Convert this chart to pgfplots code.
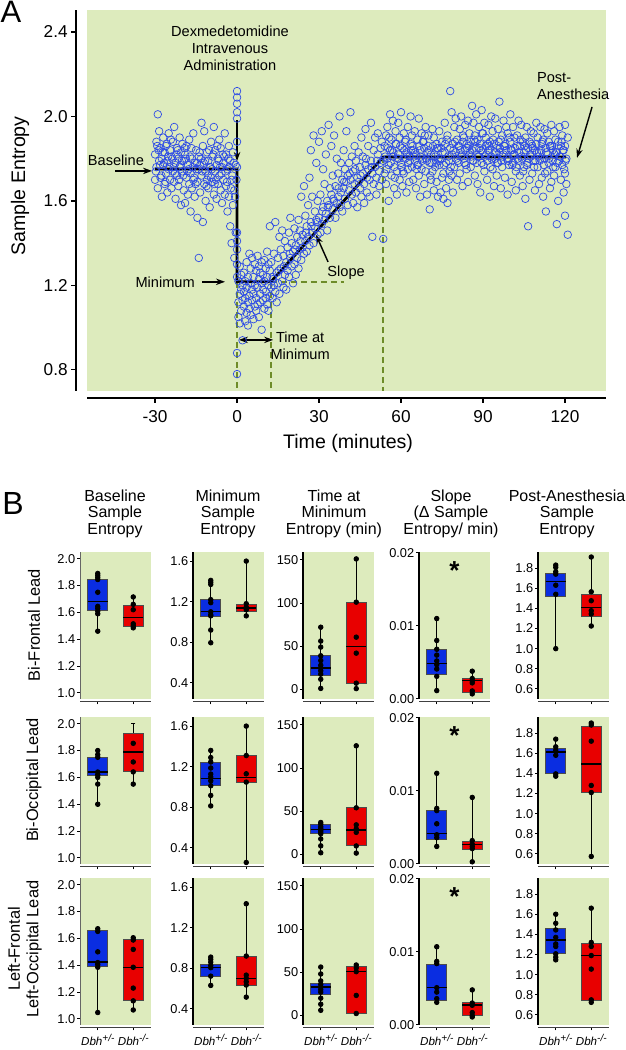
\documentclass[border=0pt]{standalone}
\usepackage{pgfplots}
\pgfplotsset{compat=1.18}
\usepgfplotslibrary{statistics}
\usetikzlibrary{arrows.meta}
\usepackage{fontspec}
\setmainfont{Liberation Sans}
\definecolor{bggreen}{RGB}{221,235,189}
\definecolor{scblue}{RGB}{45,75,230}
\definecolor{bxblue}{RGB}{10,45,225}
\definecolor{bxred}{RGB}{232,0,0}
\definecolor{dashgreen}{RGB}{110,140,40}
\newcommand{\sups}[1]{\raisebox{0.8ex}{\fontsize{5}{5}\selectfont\textit{#1}}}
\pgfplotsset{/pgf/number format/assume math mode=true,
  boxplot/draw direction=y,
  boxplot/box extend=0.57, boxplot/whisker extend=0.12,
  boxplot/every whisker/.style={black,line width=0.6pt},
  boxplot/every median/.style={black,line width=0.7pt},
  pB/.style={scale only axis, width=35.5pt, height=73.5pt, anchor=south west,
    xmin=0.5, xmax=2.5, xtick={1,2}, xticklabels={},
    axis background/.style={fill=bggreen},
    axis lines*=left, axis x line shift=1.3pt,
    x axis line style={black!75, line width=0.6pt},
    y axis line style={black, line width=1pt},
    tick align=outside, major tick length=1.4pt, tick style={black, line width=0.5pt},
    tick label style={font=\fontsize{6.4}{7}\selectfont},
    yticklabel style={inner sep=0.8pt},
    clip=false, scaled y ticks=false},
  f1/.style={yticklabel style={/pgf/number format/fixed, /pgf/number format/fixed zerofill, /pgf/number format/precision=1}},
  c1/.style={f1, ymin=0.955, ymax=2.05, ytick={1.0,1.2,1.4,1.6,1.8,2.0}, y axis line style={black!60, line width=0.4pt}},
  c2/.style={f1, ymin=0.24, ymax=1.69, ytick={0.4,0.8,1.2,1.6}},
  c3/.style={ymin=-11, ymax=159, ytick={0,50,100,150}},
  c4/.style={ymin=0, ymax=0.0201, ytick={0,0.01,0.02}, yticklabel style={/pgf/number format/fixed, /pgf/number format/fixed zerofill, /pgf/number format/precision=2}},
  c5/.style={f1, ymin=0.50, ymax=1.96, ytick={0.6,0.8,1.0,1.2,1.4,1.6,1.8}},
  dbh/.style={xticklabels={{\textit{Dbh}\sups{+/-}},{\textit{Dbh}\sups{-/-}}}, xticklabel style={font=\fontsize{5.8}{6.5}\selectfont, inner sep=1.5pt}}
}
\newcommand{\bx}[7]{\addplot[boxplot prepared={draw position=#1, lower whisker=#2, lower quartile=#3, median=#4, upper quartile=#5, upper whisker=#6}, fill=#7, draw=black!70, line width=0.45pt] coordinates {};}
\newcommand{\pts}[1]{\addplot[only marks, mark=*, mark size=1.15pt, black, mark options={fill=black}] coordinates {#1};}
\newcommand{\sigstar}{\node[font=\fontsize{13}{13}\selectfont\bfseries] at (axis cs:1.5,0.0176) {*};}
\tikzset{arr/.style={-{Stealth[length=4.5pt,width=3.2pt]}, line width=0.7pt, black}}
\newcommand{\annfont}{\fontsize{7.3}{8.5}\selectfont}
\begin{document}
\begin{tikzpicture}
\useasboundingbox (0,0) rectangle (313pt,525pt);
\begin{axis}[scale only axis, width=259.5pt, height=190.5pt, at={(43.5pt,329.5pt)}, anchor=south west,
  xmin=-54.9, xmax=135, ymin=0.70, ymax=2.504,
  xtick={-30,0,30,60,90,120}, ytick={0.8,1.2,1.6,2.0,2.4},
  yticklabel style={/pgf/number format/fixed, /pgf/number format/fixed zerofill, /pgf/number format/precision=1, inner sep=1.5pt},
  axis background/.style={fill=bggreen},
  axis lines*=left, axis x line shift=3.5pt, axis y line shift=5.5pt,
  x axis line style={black, line width=1.3pt}, y axis line style={black, line width=1pt},
  tick align=outside, major tick length=2.5pt, tick style={black, line width=0.6pt},
  tick label style={font=\fontsize{8.6}{10}\selectfont},
  xlabel={Time (minutes)}, ylabel={Sample Entropy},
  label style={font=\fontsize{9.8}{11}\selectfont},
  xlabel style={at={(axis description cs:0.503,-0.1365)}, anchor=center},
  ylabel style={at={(axis description cs:-0.129,0.538)}, anchor=center},
  clip=false]
\addplot[only marks, mark=o, mark size=1.9pt, color=scblue, mark options={line width=0.35pt}] coordinates {
(-30,1.82)(-30,1.70)(-29.5,1.88)(-29.5,1.76)(-29,2.01)(-29,1.66)(-28.5,1.79)(-28.5,1.93)(-28,1.71)(-28,1.85)(-27.5,1.62)(-27.5,1.80)(-27,1.90)(-27,1.77)(-26.5,1.68)(-26.5,1.83)(-26,1.86)(-26,1.73)(-25.5,1.79)(-25.5,1.64)(-25,1.92)(-25,1.75)(-24.5,1.70)(-24.5,1.84)(-24,1.81)(-24,1.66)(-23.5,1.74)(-23.5,1.88)(-23,1.95)(-23,1.69)(-22.5,1.78)(-22.5,1.61)(-22,1.85)(-22,1.72)(-21.5,1.67)(-21.5,1.80)(-21,1.76)(-21,1.90)(-20.5,1.58)(-20.5,1.83)(-20,1.74)(-20,1.87)(-19.5,1.65)(-19.5,1.79)(-19,1.82)(-19,1.59)(-18.5,1.71)(-18.5,1.86)(-18,1.63)(-18,1.77)(-17.5,1.89)(-17.5,1.68)(-17,1.73)(-17,1.55)(-16.5,1.80)(-16.5,1.66)(-16,1.92)(-16,1.70)(-15.5,1.62)(-15.5,1.78)(-15,1.75)(-15,1.84)(-14.5,1.52)(-14.5,1.69)(-14,1.33)(-14,1.81)(-13.5,1.77)(-13.5,1.64)(-13,1.97)(-13,1.72)(-12.5,1.50)(-12.5,1.86)(-12,1.93)(-12,1.68)(-11.5,1.74)(-11.5,1.60)(-11,1.83)(-11,1.70)(-10.5,1.66)(-10.5,1.79)(-10,1.57)(-10,1.76)(-9.5,1.88)(-9.5,1.71)(-9,1.69)(-9,1.81)(-8.5,1.95)(-8.5,1.63)(-8,1.74)(-8,1.84)(-7.5,1.61)(-7.5,1.77)(-7,1.80)(-7,1.68)(-6.5,1.72)(-6.5,1.89)(-6,1.85)(-6,1.65)(-5.5,1.59)(-5.5,1.76)(-5,1.78)(-5,1.70)(-4.5,1.92)(-4.5,1.63)(-4,1.67)(-4,1.82)(-3.5,1.75)(-3.5,1.55)(-3,1.86)(-3,1.62)(-2.5,1.48)(-2.5,1.79)(-2,1.70)(-2,1.40)(-1.5,1.83)(-1.5,1.58)(-1,1.33)(-1,1.65)(-0.5,1.77)(-0.5,1.45)
(-29.7,1.74)(-28.7,1.84)(-27.7,1.72)(-26.7,1.78)(-25.7,1.87)(-24.7,1.76)(-23.7,1.80)(-22.7,1.73)(-21.7,1.84)(-20.7,1.77)(-19.7,1.72)(-18.7,1.80)(-17.7,1.75)(-16.7,1.85)(-15.7,1.71)(-14.7,1.78)(-13.7,1.83)(-12.7,1.74)(-11.7,1.79)(-10.7,1.72)(-9.7,1.76)(-8.7,1.82)(-7.7,1.70)(-6.7,1.79)(-5.7,1.73)(-4.7,1.81)(-3.7,1.69)(-2.7,1.76)(-1.7,1.72)(-0.7,1.62)
(-29.2,1.86)(-28.2,1.77)(-27.2,1.83)(-26.2,1.69)(-25.2,1.81)(-24.2,1.89)(-23.2,1.76)(-22.2,1.82)(-21.2,1.70)(-20.2,1.79)(-19.2,1.85)(-18.2,1.74)(-17.2,1.81)(-16.2,1.76)(-15.2,1.68)(-14.2,1.75)(-13.2,1.80)(-12.2,1.78)(-11.2,1.67)(-10.2,1.84)(-9.2,1.75)(-8.2,1.68)(-7.2,1.86)(-6.2,1.76)(-5.2,1.82)(-4.2,1.74)(-3.2,1.80)(-2.2,1.66)(-1.2,1.78)(-0.2,1.70)
(0,2.12)(0,2.09)(0,2.06)(0,2.02)(0,1.99)(0,1.88)(0,1.76)(0,1.45)(0,1.41)(0,1.37)(0,1.30)(0,1.24)(0,0.88)(0,0.78)
(0.5,1.22)(0.5,1.12)(0.5,1.05)(1,1.29)(1,1.16)(1,1.02)(1.5,1.18)(1.5,1.08)(1.5,1.25)(2,0.94)(2,1.20)(2,1.13)(2.5,1.26)(2.5,1.10)(2.5,1.17)(3,1.03)(3,1.22)(3,1.14)(3.5,1.19)(3.5,1.07)(3.5,1.31)(4,1.12)(4,1.24)(4,1.01)(4.5,1.35)(4.5,1.15)(4.5,1.09)(5,1.21)(5,1.06)(5,1.28)(5.5,1.13)(5.5,1.33)(5.5,1.18)(6,1.24)(6,1.04)(6,1.16)(6.5,1.10)(6.5,1.30)(6.5,1.20)(7,1.27)(7,1.14)(7,1.08)(7.5,1.19)(7.5,1.34)(7.5,1.11)(8,1.05)(8,1.23)(8,1.29)(8.5,1.16)(8.5,1.26)(8.5,1.12)(9,0.99)(9,1.21)(9,1.31)(9.5,1.25)(9.5,1.13)(9.5,1.18)(10,1.32)(10,1.09)(10,1.22)(10.5,1.17)(10.5,1.28)(10.5,1.14)(11,1.24)(11,1.36)(11,1.11)(11.5,1.20)(11.5,1.08)(11.5,1.30)(12,1.27)(12,1.15)(12,1.48)
(12.5,1.19)(12.5,1.31)(13,1.24)(13,1.14)(13.5,1.35)(13.5,1.20)(14,1.50)(14,1.17)(14.5,1.26)(14.5,1.12)(15,1.33)(15,1.21)(15.5,1.16)(15.5,1.43)(16,1.28)(16,1.37)(16.5,1.22)(16.5,1.46)(17,1.34)(17,1.19)(17.5,1.41)(17.5,1.25)(18,1.18)(18,1.31)(18.5,1.38)(18.5,1.27)(19,1.24)(19,1.45)(19.5,1.33)(19.5,1.52)(20,1.29)(20,1.40)(20.5,1.36)(20.5,1.21)(21,1.47)(21,1.30)(21.5,1.25)(21.5,1.39)(22,1.43)(22,1.33)(22.5,1.51)(22.5,1.28)(23,1.37)(23,1.46)(23.5,1.32)(23.5,1.62)(24,1.44)(24,1.38)(24.5,1.67)(24.5,1.35)(25,1.41)(25,1.53)(25.5,1.48)(25.5,1.36)(26,1.58)(26,1.43)(26.5,1.39)(26.5,1.71)(27,1.50)(27,1.84)(27.5,1.45)(27.5,1.62)(28,1.91)(28,1.40)(28.5,1.55)(28.5,1.47)(29,1.78)(29,1.51)(29.5,1.44)(29.5,1.60)(30,1.52)(30,1.88)(30.5,1.63)(30.5,1.45)(31,1.49)(31,1.93)(31.5,1.57)(31.5,1.75)(32,1.68)(32,1.51)(32.5,1.54)(32.5,1.82)(33,1.60)(33,1.46)(33.5,1.96)(33.5,1.58)(34,1.52)(34,1.66)(34.5,1.63)(34.5,1.86)(35,1.56)(35,1.72)(35.5,1.91)(35.5,1.60)(36,1.67)(36,1.52)(36.5,1.59)(36.5,1.80)(37,1.73)(37,1.62)(37.5,2.00)(37.5,1.57)(38,1.64)(38,1.78)(38.5,1.70)(38.5,1.55)(39,1.84)(39,1.66)(39.5,1.61)(39.5,1.75)(40,1.69)(40,1.93)(40.5,1.58)(40.5,1.72)(41,1.78)(41,1.65)(41.5,2.02)(41.5,1.70)(42,1.63)(42,1.81)(42.5,1.74)(42.5,1.59)(43,1.68)(43,1.86)(43.5,1.79)(43.5,1.64)(44,1.71)(44,1.57)(44.5,1.83)(44.5,1.69)(45,1.66)(45,1.76)(45.5,1.90)(45.5,1.62)(46,1.73)(46,1.81)(46.5,1.68)(46.5,1.59)(47,1.77)(47,1.94)(47.5,1.64)(47.5,1.71)(48,1.86)(48,1.75)(48.5,1.70)(48.5,1.62)(49,1.79)(49,1.97)(49.5,1.43)(49.5,1.73)(50,1.68)(50,1.84)(50.5,1.76)(50.5,1.90)(51,1.71)(51,1.63)(51.5,1.82)(51.5,1.92)(52,1.74)(52,1.67)(52.5,1.85)(52.5,1.78)(53,1.70)(53,1.88)
(13.2,1.23)(15.2,1.27)(17.2,1.29)(19.2,1.35)(21.2,1.37)(23.2,1.41)(25.2,1.45)(27.2,1.48)(29.2,1.50)(31.2,1.55)(33.2,1.57)(35.2,1.61)(37.2,1.66)(39.2,1.69)(41.2,1.73)(43.2,1.75)(45.2,1.72)(47.2,1.80)(49.2,1.76)(51.2,1.79)
(53.5,1.42)(53.5,1.79)(54,1.86)(54,1.73)(54.5,1.68)(54.5,1.91)(55,1.95)(55,1.80)(55.5,1.77)(55.5,1.60)(56,1.84)(56,2.01)(56.5,1.72)(56.5,1.89)(57,1.98)(57,1.81)(57.5,1.66)(57.5,1.76)(58,1.87)(58,1.93)(58.5,1.74)(58.5,1.63)(59,1.82)(59,1.97)(59.5,1.90)(59.5,1.70)(60,1.78)(60,2.02)(60.5,1.85)(60.5,1.67)(61,1.73)(61,1.92)(61.5,1.88)(61.5,1.80)(62,1.64)(62,1.83)(62.5,1.95)(62.5,1.75)(63,1.81)(63,1.69)(63.5,1.87)(63.5,2.00)(64,1.76)(64,1.91)(64.5,1.70)(64.5,1.84)(65,1.93)(65,1.79)(65.5,1.82)(65.5,1.66)(66,1.77)(66,1.89)(66.5,1.99)(66.5,1.72)(67,1.84)(67,1.62)(67.5,1.75)(67.5,1.92)(68,1.88)(68,1.80)(68.5,1.68)(68.5,1.85)(69,1.95)(69,1.74)(69.5,1.79)(69.5,1.63)(70,1.86)(70,1.91)(70.5,1.56)(70.5,1.78)(71,1.82)(71,1.70)(71.5,1.74)(71.5,1.94)(72,1.90)(72,1.65)(72.5,1.81)(72.5,1.76)(73,1.69)(73,1.87)(73.5,1.85)(73.5,1.62)(74,1.77)(74,1.93)(74.5,1.64)(74.5,1.80)(75,1.88)(75,1.71)(75.5,1.73)(75.5,1.61)(76,1.83)(76,1.97)(76.5,1.66)(76.5,1.78)(77,1.91)(77,1.59)(77.5,1.79)(77.5,1.70)(78,2.12)(78,1.85)(78.5,1.72)(78.5,2.02)(79,1.87)(79,1.64)(79.5,1.76)(79.5,1.95)(80,1.99)(80,1.83)(80.5,1.70)(80.5,1.89)(81,1.86)(81,1.78)(81.5,1.94)(81.5,1.73)(82,1.81)(82,2.00)(82.5,1.67)(82.5,1.88)(83,1.90)(83,1.80)(83.5,1.84)(83.5,1.96)(84,1.75)(84,1.87)(84.5,1.98)(84.5,1.69)(85,1.82)(85,1.92)(85.5,1.88)(85.5,1.76)(86,2.05)(86,1.84)(86.5,1.79)(86.5,1.97)(87,1.91)(87,1.72)(87.5,1.85)(87.5,2.01)(88,1.68)(88,1.89)(88.5,1.95)(88.5,1.81)(89,1.87)(89,1.64)(89.5,2.03)(89.5,1.78)(90,1.83)(90,1.92)(90.5,1.74)(90.5,1.97)(91,1.90)(91,1.86)(91.5,1.79)(91.5,1.70)(92,1.96)(92,1.84)(92.5,1.88)(92.5,1.62)(93,1.81)(93,2.00)(93.5,1.93)(93.5,1.75)(94,1.67)(94,1.87)(94.5,1.99)(94.5,1.80)(95,1.85)(95,1.72)(95.5,1.78)(95.5,1.94)(96,2.07)(96,1.83)(96.5,1.89)(96.5,1.66)(97,1.76)(97,1.91)(97.5,1.98)(97.5,1.82)(98,1.71)(98,1.86)(98.5,1.84)(98.5,1.95)(99,1.92)(99,1.63)(99.5,1.80)(99.5,1.77)(100,1.88)(100,2.01)(100.5,1.69)(100.5,1.84)(101,1.95)(101,1.78)(101.5,1.82)(101.5,1.90)(102,1.74)(102,1.65)(102.5,1.91)(102.5,1.86)(103,1.79)(103,1.98)(103.5,1.86)(103.5,1.72)(104,1.96)(104,1.81)(104.5,1.67)(104.5,1.88)(105,1.83)(105,1.76)(105.5,1.90)(105.5,1.61)(106,1.77)(106,1.95)(106.5,1.48)(106.5,1.85)(107,1.88)(107,1.70)(107.5,1.81)(107.5,1.93)(108,1.73)(108,1.86)(108.5,1.92)(108.5,1.79)(109,1.65)(109,1.84)(109.5,1.87)(109.5,1.97)(110,1.76)(110,1.90)(110.5,1.83)(110.5,1.68)(111,1.95)(111,1.80)(111.5,1.71)(111.5,1.87)(112,1.89)(112,1.62)(112.5,1.80)(112.5,1.94)(113,1.55)(113,1.85)(113.5,1.92)(113.5,1.74)(114,1.78)(114,1.88)(114.5,1.86)(114.5,1.66)(115,1.69)(115,1.96)(115.5,1.84)(115.5,1.79)(116,1.93)(116,1.72)(116.5,1.76)(116.5,1.89)(117,1.49)(117,1.83)(117.5,1.88)(117.5,1.60)(118,1.81)(118,1.95)(118.5,1.70)(118.5,1.86)(119,1.91)(119,1.77)(119.5,1.64)(119.5,1.84)(120,1.86)(120,1.53)(120,1.96)(120,1.73)(120.5,1.80)(120.5,1.68)(121,1.44)(121,1.90)
(54.2,1.81)(55.2,1.85)(56.2,1.78)(57.2,1.83)(58.2,1.87)(59.2,1.80)(60.2,1.76)(61.2,1.84)(62.2,1.82)(63.2,1.79)(64.2,1.86)(65.2,1.83)(66.2,1.77)(67.2,1.81)(68.2,1.88)(69.2,1.80)(70.2,1.84)(71.2,1.78)(72.2,1.82)(73.2,1.85)(74.2,1.79)(75.2,1.83)(76.2,1.87)(77.2,1.81)(78.2,1.76)(79.2,1.84)(80.2,1.80)(81.2,1.86)(82.2,1.82)(83.2,1.78)(84.2,1.85)(85.2,1.83)(86.2,1.79)(87.2,1.88)(88.2,1.81)(89.2,1.84)(90.2,1.77)(91.2,1.82)(92.2,1.86)(93.2,1.80)(94.2,1.83)(95.2,1.78)(96.2,1.85)(97.2,1.81)(98.2,1.87)(99.2,1.79)(100.2,1.84)(101.2,1.82)(102.2,1.76)(103.2,1.83)(104.2,1.80)(105.2,1.86)(106.2,1.78)(107.2,1.82)(108.2,1.85)(109.2,1.79)(110.2,1.81)(111.2,1.84)(112.2,1.77)(113.2,1.83)(114.2,1.80)(115.2,1.86)(116.2,1.82)(117.2,1.78)(118.2,1.81)(119.2,1.84)(120.2,1.79)
(54.7,1.75)(55.7,1.90)(56.7,1.84)(57.7,1.71)(58.7,1.80)(59.7,1.86)(60.7,1.74)(61.7,1.89)(62.7,1.78)(63.7,1.84)(64.7,1.81)(65.7,1.75)(66.7,1.86)(67.7,1.79)(68.7,1.91)(69.7,1.83)(70.7,1.72)(71.7,1.86)(72.7,1.78)(73.7,1.80)(74.7,1.85)(75.7,1.77)(76.7,1.89)(77.7,1.74)(78.7,1.82)(79.7,1.88)(80.7,1.79)(81.7,1.84)(82.7,1.91)(83.7,1.77)(84.7,1.86)(85.7,1.81)(86.7,1.89)(87.7,1.78)(88.7,1.85)(89.7,1.92)(90.7,1.81)(91.7,1.87)(92.7,1.76)(93.7,1.89)(94.7,1.83)(95.7,1.88)(96.7,1.79)(97.7,1.86)(98.7,1.80)(99.7,1.90)(100.7,1.77)(101.7,1.85)(102.7,1.80)(103.7,1.89)(104.7,1.74)(105.7,1.84)(106.7,1.80)(107.7,1.87)(108.7,1.76)(109.7,1.83)(110.7,1.79)(111.7,1.88)(112.7,1.73)(113.7,1.82)(114.7,1.86)(115.7,1.76)(116.7,1.83)(117.7,1.79)(118.7,1.88)(119.7,1.75)
};
\addplot[dashgreen, line width=0.8pt, dash pattern=on 3pt off 2pt] coordinates {(0,1.217)(0,0.70)};
\addplot[dashgreen, line width=0.8pt, dash pattern=on 3pt off 2pt] coordinates {(12.4,1.217)(12.4,0.70)};
\addplot[dashgreen, line width=0.8pt, dash pattern=on 3pt off 2pt] coordinates {(53.5,1.808)(53.5,0.70)};
\addplot[dashgreen, line width=0.8pt, dash pattern=on 3pt off 2pt] coordinates {(12.4,1.217)(39,1.217)};
\addplot[black, line width=1.4pt] coordinates {(-30,1.751)(0,1.751)(0,1.217)(12.4,1.217)(53.5,1.808)(120.4,1.808)};
\node[align=center, font=\annfont] at (axis cs:-2.6,2.324) {Dexmedetomidine\\Intravenous\\Administration};
\draw[arr] (axis cs:0,1.983) -- (axis cs:0,1.789);
\node[font=\annfont] at (axis cs:-44.3,1.794) {Baseline};
\draw[arr] (axis cs:-44.6,1.742) -- (axis cs:-31.1,1.742);
\node[font=\annfont] at (axis cs:-26.3,1.217) {Minimum};
\draw[arr] (axis cs:-12.8,1.217) -- (axis cs:-4.4,1.217);
\node[font=\annfont] at (axis cs:39.9,1.259) {Slope};
\draw[arr] (axis cs:33.3,1.311) -- (axis cs:28.9,1.439);
\node[align=center, font=\annfont] at (axis cs:23.1,0.914) {Time at\\Minimum};
\draw[{Stealth[length=4.5pt,width=3.2pt]}-{Stealth[length=4.5pt,width=3.2pt]}, line width=0.7pt] (axis cs:0.7,0.942) -- (axis cs:13.2,0.942);
\node[align=left, anchor=west, font=\annfont] at (axis cs:107.2,2.144) {Post-\\Anesthesia};
\draw[arr] (axis cs:129.9,2.045) -- (axis cs:124.4,1.804);
\end{axis}
% ---------- Panel B, row 1 ----------
\begin{axis}[pB, c1, at={(40pt,175.5pt)}]
\bx{1}{1.459}{1.613}{1.682}{1.844}{1.893}{bxblue}
\bx{2}{1.484}{1.496}{1.563}{1.65}{1.715}{bxred}
\pts{(1,1.89)(1,1.875)(1,1.86)(1,1.845)(1,1.75)(1,1.645)(1,1.63)(1,1.61)(1,1.59)(1,1.46)(2,1.715)(2,1.66)(2,1.62)(2,1.515)(2,1.50)(2,1.485)}
\end{axis}
\begin{axis}[pB, c2, at={(96.5pt,175.5pt)}]
\bx{1}{0.795}{1.056}{1.105}{1.221}{1.412}{bxblue}
\bx{2}{1.06}{1.099}{1.138}{1.171}{1.60}{bxred}
\pts{(1,1.41)(1,1.39)(1,1.37)(1,1.22)(1,1.19)(1,1.10)(1,1.07)(1,1.06)(1,0.92)(1,0.795)(2,1.60)(2,1.18)(2,1.145)(2,1.12)(2,1.06)}
\end{axis}
\begin{axis}[pB, c3, at={(151.5pt,175.5pt)}]
\bx{1}{1.2}{16.5}{24.8}{39.4}{72}{bxblue}
\bx{2}{1}{7.3}{50}{101}{151}{bxred}
\pts{(1,72)(1,56)(1,49)(1,39)(1,33.5)(1,28)(1,25)(1,21.6)(1,17.7)(1,11.8)(1,1.2)(2,151)(2,101)(2,60.5)(2,42)(2,7.3)(2,1)}
\end{axis}
\begin{axis}[pB, c4, at={(209.5pt,175.5pt)}]
\bx{1}{0.00115}{0.00331}{0.00483}{0.00676}{0.01103}{bxblue}
\bx{2}{0.0007}{0.00092}{0.00253}{0.00285}{0.0038}{bxred}
\pts{(1,0.0110)(1,0.0080)(1,0.0068)(1,0.0060)(1,0.0052)(1,0.0047)(1,0.0041)(1,0.0031)(1,0.00115)(2,0.0038)(2,0.0028)(2,0.0025)(2,0.0022)(2,0.0011)(2,0.0007)}
\sigstar
\end{axis}
\begin{axis}[pB, c5, at={(269pt,175.5pt)}]
\bx{1}{1.0}{1.519}{1.668}{1.747}{1.83}{bxblue}
\bx{2}{1.225}{1.32}{1.407}{1.542}{1.909}{bxred}
\pts{(1,1.83)(1,1.807)(1,1.764)(1,1.74)(1,1.63)(1,1.54)(1,1.0)(2,1.91)(2,1.565)(2,1.476)(2,1.377)(2,1.344)(2,1.225)}
\end{axis}
% ---------- row 2 ----------
\begin{axis}[pB, c1, at={(40pt,93pt)}]
\bx{1}{1.40}{1.611}{1.641}{1.752}{1.80}{bxblue}
\bx{2}{1.55}{1.641}{1.79}{1.926}{2.0}{bxred}
\pts{(1,1.80)(1,1.77)(1,1.75)(1,1.64)(1,1.62)(1,1.60)(1,1.55)(1,1.40)(2,1.854)(2,1.715)(2,1.641)(2,1.55)}
\end{axis}
\begin{axis}[pB, c2, at={(96.5pt,93pt)}]
\bx{1}{0.813}{1.012}{1.081}{1.243}{1.359}{bxblue}
\bx{2}{0.255}{1.045}{1.094}{1.312}{1.6}{bxred}
\pts{(1,1.36)(1,1.29)(1,1.246)(1,1.187)(1,1.127)(1,1.098)(1,1.061)(1,1.012)(1,0.916)(1,0.813)(2,1.6)(2,1.31)(2,1.13)(2,1.048)(2,0.255)}
\end{axis}
\begin{axis}[pB, c3, at={(151.5pt,93pt)}]
\bx{1}{2}{24}{29}{34.7}{37.5}{bxblue}
\bx{2}{1.6}{9.9}{28.4}{54}{125.7}{bxred}
\pts{(1,37)(1,35)(1,32)(1,30)(1,28)(1,26)(1,24)(1,18)(1,10)(1,2)(2,125.7)(2,54)(2,34.3)(2,29.6)(2,25.6)(2,9.9)(2,1.6)}
\end{axis}
\begin{axis}[pB, c4, at={(209.5pt,93pt)}]
\bx{1}{0.00237}{0.00333}{0.00416}{0.00735}{0.01242}{bxblue}
\bx{2}{0.00027}{0.00205}{0.00265}{0.00306}{0.00909}{bxred}
\pts{(1,0.0124)(1,0.0076)(1,0.0073)(1,0.0055)(1,0.0040)(1,0.0036)(1,0.0024)(2,0.0091)(2,0.0032)(2,0.0027)(2,0.0024)(2,0.0021)(2,0.0003)}
\sigstar
\end{axis}
\begin{axis}[pB, c5, at={(269pt,93pt)}]
\bx{1}{1.372}{1.395}{1.612}{1.644}{1.742}{bxblue}
\bx{2}{0.575}{1.21}{1.492}{1.865}{1.90}{bxred}
\pts{(1,1.74)(1,1.664)(1,1.631)(1,1.58)(1,1.395)(1,1.372)(2,1.90)(2,1.88)(2,1.72)(2,1.28)(2,1.21)(2,0.575)}
\end{axis}
% ---------- row 3 ----------
\begin{axis}[pB, c1, dbh, at={(40pt,12.5pt)}]
\bx{1}{1.048}{1.393}{1.425}{1.66}{1.672}{bxblue}
\bx{2}{1.067}{1.137}{1.385}{1.592}{1.605}{bxred}
\pts{(1,1.672)(1,1.652)(1,1.50)(1,1.42)(1,1.405)(1,1.385)(1,1.048)(2,1.605)(2,1.588)(2,1.518)(2,1.385)(2,1.23)(2,1.135)(2,1.067)}
\end{axis}
\begin{axis}[pB, c2, dbh, at={(96.5pt,12.5pt)}]
\bx{1}{0.63}{0.722}{0.81}{0.837}{0.91}{bxblue}
\bx{2}{0.515}{0.63}{0.696}{0.92}{1.436}{bxred}
\pts{(1,0.91)(1,0.887)(1,0.86)(1,0.827)(1,0.805)(1,0.722)(1,0.63)(2,1.436)(2,0.92)(2,0.732)(2,0.70)(2,0.667)(2,0.634)(2,0.515)}
\end{axis}
\begin{axis}[pB, c3, dbh, at={(151.5pt,12.5pt)}]
\bx{1}{5.8}{24}{33}{37.5}{56}{bxblue}
\bx{2}{2.3}{2.3}{50.7}{56.5}{58.4}{bxred}
\pts{(1,56)(1,48)(1,40)(1,36)(1,33)(1,30)(1,27)(1,20)(1,13)(1,6)(2,58.4)(2,55)(2,50.7)(2,23.2)(2,2.3)}
\end{axis}
\begin{axis}[pB, c4, dbh, at={(209.5pt,12.5pt)}]
\bx{1}{0.00314}{0.00336}{0.00509}{0.00827}{0.01073}{bxblue}
\bx{2}{0.0011}{0.00132}{0.00273}{0.00314}{0.00477}{bxred}
\pts{(1,0.0107)(1,0.0087)(1,0.0084)(1,0.0051)(1,0.0045)(1,0.0036)(1,0.0031)(2,0.0048)(2,0.0030)(2,0.0027)(2,0.0017)(2,0.0013)(2,0.0011)}
\sigstar
\end{axis}
\begin{axis}[pB, c5, dbh, at={(269pt,12.5pt)}]
\bx{1}{1.147}{1.207}{1.345}{1.454}{1.60}{bxblue}
\bx{2}{0.725}{0.745}{1.19}{1.305}{1.658}{bxred}
\pts{(1,1.60)(1,1.51)(1,1.444)(1,1.37)(1,1.305)(1,1.28)(1,1.207)(1,1.174)(1,1.147)(2,1.66)(2,1.32)(2,1.28)(2,1.19)(2,1.055)(2,0.75)(2,0.725)}
\end{axis}
% ---------- text ----------
\node[font=\fontsize{15.5}{16}\selectfont] at (5.5pt,519pt) {A};
\node[font=\fontsize{16}{16}\selectfont] at (6.5pt,273.25pt) {B};
\begin{scope}[every node/.style={align=center, font=\fontsize{8}{8.25}\selectfont}]
\node at (57.5pt,268.25pt) {Baseline\\Sample\\Entropy};
\node at (114pt,268.25pt) {Minimum\\Sample\\Entropy};
\node at (167pt,268.25pt) {Time at\\Minimum\\Entropy (min)};
\node at (225.5pt,268.25pt) {Slope\\(Δ Sample\\Entropy/ min)};
\node at (283.5pt,268.25pt) {Post-Anesthesia\\Sample\\Entropy};
\end{scope}
\begin{scope}[every node/.style={align=center, rotate=90, font=\fontsize{8.2}{9.25}\selectfont}]
\node at (17pt,212.5pt) {Bi-Frontal Lead};
\node at (17pt,135pt) {Bi-Occipital Lead};
\node at (12.4pt,50.5pt) {Left-Frontal\\Left-Occipital Lead};
\end{scope}
\end{tikzpicture}
\end{document}
